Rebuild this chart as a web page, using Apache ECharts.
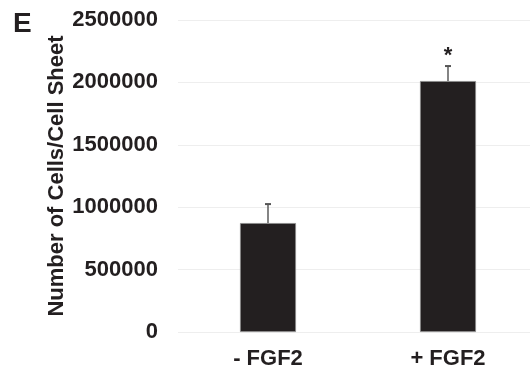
<!DOCTYPE html>
<html><head><meta charset="utf-8">
<script src="https://cdn.jsdelivr.net/npm/echarts@6/dist/echarts.min.js"></script>
<style>html,body{margin:0;padding:0;background:#fff;overflow:hidden}#c{width:538px;height:371px}</style>
</head><body><div id="c"></div>
<script>
const categories = ['- FGF2', '+ FGF2'];
const means = [873000, 2011000];
const errors = [152000, 120000];
const significance = ['', '*'];
const yTicks = [0, 500000, 1000000, 1500000, 2000000, 2500000];

const chart = echarts.init(document.getElementById('c'));
const FONT = 'Liberation Sans, Arial, sans-serif';
chart.setOption({
  animation: false,
  backgroundColor: '#fff',
  graphic: [{type: 'text', left: 13, top: 10, style: {text: 'E', font: 'bold 28px ' + FONT, fill: '#231f20'}}],
  grid: {left: 178, right: 0, top: 20, bottom: 39},
  xAxis: {
    type: 'category', data: categories,
    axisLine: {show: false}, axisTick: {show: false},
    axisLabel: {fontFamily: FONT, fontWeight: 'bold', fontSize: 22, color: '#231f20', margin: 16}
  },
  yAxis: {
    type: 'value', min: yTicks[0], max: yTicks[yTicks.length - 1], interval: 500000,
    name: 'Number of Cells/Cell Sheet', nameLocation: 'middle', nameGap: 110, nameMoveOverlap: false,
    nameTextStyle: {fontFamily: FONT, fontWeight: 'bold', fontSize: 22, color: '#231f20'},
    axisLine: {show: false}, axisTick: {show: false},
    axisLabel: {fontFamily: FONT, fontWeight: 'bold', fontSize: 22, color: '#231f20', margin: 20,
      formatter: function (v) { return String(v); }},
    splitLine: {lineStyle: {color: '#eeeeee', width: 1}}
  },
  series: [{
    type: 'bar', data: means, barWidth: 56,
    itemStyle: {color: '#231f20', borderColor: '#8a8a8a', borderWidth: 0.8}
  }, {
    type: 'custom',
    data: means.map((m, i) => [i, m, m + errors[i], significance[i]]),
    renderItem: function (params, api) {
      const top = api.coord([api.value(0), api.value(2)]);
      const base = api.coord([api.value(0), api.value(1)]);
      const cap = 3;
      const children = [
        {type: 'line', shape: {x1: top[0], y1: top[1], x2: base[0], y2: base[1]}, style: {stroke: '#666', lineWidth: 1.6}},
        {type: 'line', shape: {x1: top[0] - cap, y1: top[1], x2: top[0] + cap, y2: top[1]}, style: {stroke: '#555', lineWidth: 2}}
      ];
      const s = significance[params.dataIndex];
      if (s) {
        children.push({type: 'text', x: top[0], y: top[1] - 10, style: {text: s, font: 'bold 22px ' + FONT, fill: '#231f20', align: 'center', verticalAlign: 'middle'}});
      }
      return {type: 'group', children: children};
    },
    z: 5
  }]
});
</script></body></html>
